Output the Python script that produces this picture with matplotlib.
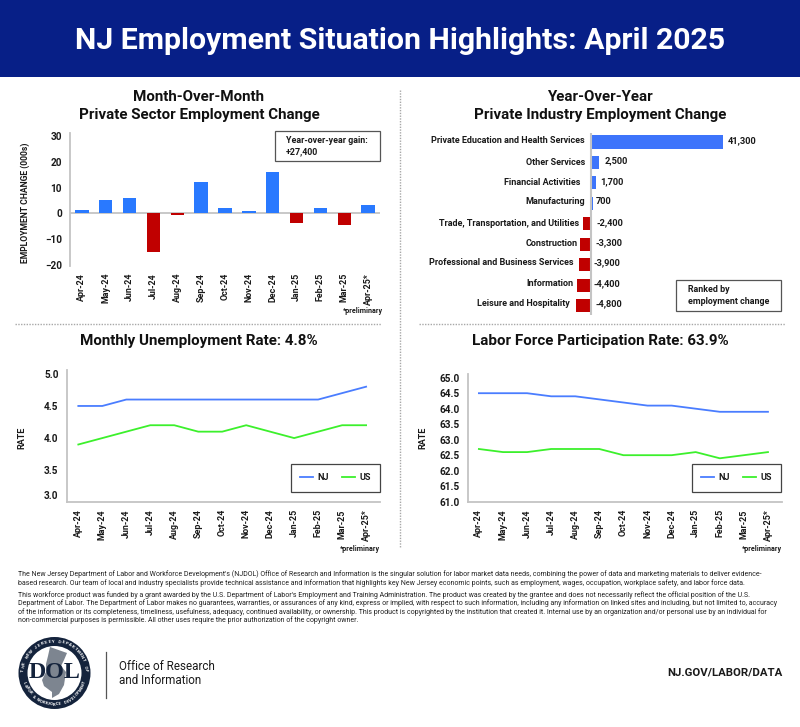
import numpy as np
import matplotlib
matplotlib.use('Agg')
import matplotlib.pyplot as plt
from matplotlib.patches import Rectangle, Circle, Polygon
from matplotlib.transforms import ScaledTranslation

months = ['Apr-24', 'May-24', 'Jun-24', 'Jul-24', 'Aug-24', 'Sep-24', 'Oct-24', 'Nov-24', 'Dec-24',
          'Jan-25', 'Feb-25', 'Mar-25', 'Apr-25*']
mom_change = [1.2, 5.2, 6.1, -15.0, -0.6, 12.1, 2.0, 0.8, 16.1, -3.8, 2.1, -4.3, 3.4]

industries = ['Private Education and Health Services', 'Other Services', 'Financial Activities', 'Manufacturing',
              'Trade, Transportation, and Utilities', 'Construction', 'Professional and Business Services',
              'Information', 'Leisure and Hospitality']
yoy_change = [41300, 2500, 1700, 700, -2400, -3300, -3900, -4400, -4800]

unemp_nj = [4.5, 4.5, 4.6, 4.6, 4.6, 4.6, 4.6, 4.6, 4.6, 4.6, 4.6, 4.7, 4.8]
unemp_us = [3.9, 4.0, 4.1, 4.2, 4.2, 4.1, 4.1, 4.2, 4.1, 4.0, 4.1, 4.2, 4.2]
lfpr_nj = [64.5, 64.5, 64.5, 64.4, 64.4, 64.3, 64.2, 64.1, 64.1, 64.0, 63.9, 63.9, 63.9]
lfpr_us = [62.7, 62.6, 62.6, 62.7, 62.7, 62.7, 62.5, 62.5, 62.5, 62.6, 62.4, 62.5, 62.6]

footer_lines = [
    "The New Jersey Department of Labor and Workforce Development's (NJDOL) Office of Research and Information is the singular solution for labor market data needs, combining the power of data and marketing materials to deliver evidence-",
    "based research. Our team of local and industry specialists provide technical assistance and information that highlights key New Jersey economic points, such as employment, wages, occupation, workplace safety, and labor force data.",
    "This workforce product was funded by a grant awarded by the U.S. Department of Labor's Employment and Training Administration. The product was created by the grantee and does not necessarily reflect the official position of the U.S.",
    "Department of Labor. The Department of Labor makes no guarantees, warranties, or assurances of any kind, express or implied, with respect to such information, including any information on linked sites and including, but not limited to, accuracy",
    "of the information or its completeness, timeliness, usefulness, adequacy, continued availability, or ownership. This product is copyrighted by the institution that created it. Internal use by an organization and/or personal use by an individual for",
    "non-commercial purposes is permissible. All other uses require the prior authorization of the copyright owner.",
]
footer_y = [574.5, 583, 595, 603.5, 612, 620.5]

NAVY = '#071f87'
BLUE = '#2979ff'
BLUE2 = '#3d74fb'
RED = '#c00000'
LINE_NJ = '#4a7dff'
LINE_US = '#3cf02c'
AXIS = '#c4c4c4'
INK = '#1a1a1a'

plt.rcParams['font.family'] = ['Roboto', 'DejaVu Sans']

W, H = 800, 727
fig = plt.figure(figsize=(W / 100, H / 100), dpi=100, facecolor='white')


def px_axes(left, top, right, bottom):
    return fig.add_axes([left / W, 1 - bottom / H, (right - left) / W, (bottom - top) / H], facecolor='none')


def style_months(ax, pad):
    ax.set_xticks(range(13))
    ax.set_xticklabels(months, rotation=90, fontsize=6.4, fontweight='bold', color=INK)
    ax.tick_params(axis='x', length=0, pad=pad)
    ax.tick_params(axis='y', length=0, pad=5.8, labelsize=7.2, labelcolor=INK)
    for lab in ax.get_yticklabels():
        lab.set_fontweight('bold')
    for s in ['top', 'right']:
        ax.spines[s].set_visible(False)
    for s in ['left', 'bottom']:
        ax.spines[s].set_color(AXIS)
        ax.spines[s].set_linewidth(1.3)


# month over month bars
ax1 = px_axes(70, 133, 380, 266)
colors = [BLUE if v >= 0 else RED for v in mom_change]
ax1.bar(range(13), mom_change, width=0.56, color=colors, zorder=3)
ax1.set_xlim(-0.5, 12.5)
ax1.set_ylim(-20.4, 31.2)
ax1.set_yticks([-20, -10, 0, 10, 20, 30])
style_months(ax1, 5)
ax1.spines['bottom'].set_visible(False)
ax1.axhline(0, color=AXIS, lw=1.3, zorder=2)

# year over year bars
ax2 = px_axes(420, 132.7, 782, 315)
scale = 131.7 / 41300
colors = [BLUE2 if v >= 0 else RED for v in yoy_change]
ax2.barh(range(9), yoy_change, height=0.64, color=colors, zorder=3)
ax2.set_xlim(-(591 - 420) / scale, (782 - 591) / scale)
ax2.set_ylim(8.46, -0.455)
ax2.axis('off')
ax2.axvline(0, color=AXIS, lw=1.5, zorder=4)
name_gap = [6, 6, 10.3, 6, 4, 3, 4.6, 3.3, 6]
name_up = [1.3, 0, 0.7, 1.7, 0.7, 0.3, 2.3, 1.3, 1.7]
value_gap = [5, 5.3, 3.7, 3, 5.7, 4.7, 2, 2, 4]
value_up = [1.3, 1.7, 0.7, 1.7, 1.3, 1.7, 2.3, 1.3, 1.7]
for i, (name, v) in enumerate(zip(industries, yoy_change)):
    ax2.annotate(name, (min(v, 0), i), xytext=(-name_gap[i], name_up[i]), textcoords='offset pixels',
                 ha='right', va='center', fontsize=6.5, fontweight='bold', color=INK)
    ax2.annotate(f'{v:,}', (max(v, 0), i), xytext=(value_gap[i], value_up[i]), textcoords='offset pixels',
                 ha='left', va='center', fontsize=6.7, fontweight='bold', color=INK)

# unemployment rate
ax3 = px_axes(66.7, 370, 380, 502.3)
ax3.plot(range(13), unemp_nj, color=LINE_NJ, lw=1.3, label='NJ')
ax3.plot(range(13), unemp_us, color=LINE_US, lw=1.3, label='US')
ax3.set_xlim(-0.485, 12.58)
ax3.set_ylim(3.0, 5.06)
ax3.set_yticks([3.0, 3.5, 4.0, 4.5, 5.0], ['3.0', '3.5', '4.0', '4.5', '5.0'])
style_months(ax3, 5)
lab = ax3.get_yticklabels()[0]
lab.set_transform(lab.get_transform() + ScaledTranslation(0, 5 / 72, fig.dpi_scale_trans))

# participation rate
ax4 = px_axes(468.3, 374.3, 781.7, 502.3)
ax4.plot(range(13), lfpr_nj, color=LINE_NJ, lw=1.3, label='NJ')
ax4.plot(range(13), lfpr_us, color=LINE_US, lw=1.3, label='US')
ax4.set_xlim(-0.44, 12.57)
ax4.set_ylim(60.98, 65.11)
ax4.set_yticks(np.arange(61, 65.5, 0.5))
ax4.set_yticklabels([f'{t:.1f}' for t in np.arange(61, 65.5, 0.5)])
style_months(ax4, 5)

# overlay in pixel coordinates for everything around the charts
bg = fig.add_axes([0, 0, 1, 1], facecolor='none', zorder=5)
bg.set_xlim(0, W)
bg.set_ylim(H, 0)
bg.axis('off')

for ax, cx in [(ax3, 335.5), (ax4, 736.5)]:
    leg = ax.legend(loc='center', bbox_to_anchor=(cx, 478), bbox_transform=bg.transData, ncol=2, fancybox=False,
                    framealpha=1, edgecolor='#444444', handlelength=1.35, handletextpad=0.5, columnspacing=1.5,
                    borderpad=1.0, prop={'size': 6.6, 'weight': 'bold'}, labelcolor=INK)
    leg.get_frame().set_linewidth(0.9)

bg.add_patch(Rectangle((0, 0), W, 77, color=NAVY, lw=0))
bg.text(400, 41, 'NJ Employment Situation Highlights: April 2025', color='white', fontsize=21.75, fontweight='bold',
        ha='center', va='center')

title_kw = dict(ha='center', va='center', fontsize=10.9, fontweight='bold', color='#111111')
bg.text(199, 97, 'Month-Over-Month', **title_kw)
bg.text(199, 115, 'Private Sector Employment Change', **title_kw)
bg.text(600, 97, 'Year-Over-Year', **title_kw)
bg.text(600, 115, 'Private Industry Employment Change', **title_kw)
bg.text(199, 341, 'Monthly Unemployment Rate: 4.8%', **title_kw)
bg.text(600, 341, 'Labor Force Participation Rate: 63.9%', **title_kw)

bg.text(25, 203, 'EMPLOYMENT CHANGE (000s)', rotation=90, ha='center', va='center', fontsize=6.2, fontweight='bold',
        color=INK)
bg.text(22, 438, 'RATE', rotation=90, ha='center', va='center', fontsize=6.5, fontweight='bold', color=INK)
bg.text(423, 438, 'RATE', rotation=90, ha='center', va='center', fontsize=6.5, fontweight='bold', color=INK)
for x, y in [(383, 311), (380, 549), (782, 549)]:
    bg.text(x, y, '*preliminary', ha='right', va='center', fontsize=5.1, fontweight='bold', color=INK)

# note boxes
bg.add_patch(Rectangle((274.5, 130.7), 105, 30.6, fc='white', ec='#555555', lw=0.9))
bg.text(286, 140.7, 'Year-over-year gain:', fontsize=6.4, fontweight='bold', va='center', color=INK)
bg.text(286, 151.5, '+27,400', fontsize=6.4, fontweight='bold', va='center', color=INK)
bg.add_patch(Rectangle((676, 280.3), 105.3, 31, fc='white', ec='#555555', lw=0.9))
bg.text(688, 290, 'Ranked by', fontsize=6.4, fontweight='bold', va='center', color=INK)
bg.text(688, 301.5, 'employment change', fontsize=6.4, fontweight='bold', va='center', color=INK)

# dotted dividers
dot = dict(color='#a8a8a8', lw=1.0, ls=(0, (1, 1)))
bg.plot([400, 400], [90, 547], **dot)
bg.plot([15, 381], [324, 324], **dot)
bg.plot([419, 785], [324, 324], **dot)

for line, y in zip(footer_lines, footer_y):
    bg.text(18, y, line, fontsize=5.09, va='center', color='#222222')

# logo
cx, cy = 54.5, 673
bg.add_patch(Circle((cx, cy), 36, fc='#14233c', lw=0))
bg.add_patch(Circle((cx, cy), 27, fc='white', lw=0))
bg.add_patch(Polygon([(50, 647), (67, 653), (64, 660), (61, 666), (66, 672), (64, 685), (59, 694), (52, 698),
                      (52, 692), (44, 686), (42, 680), (46, 672), (46, 664), (48, 656)], fc='#7d8590', lw=0))
bg.text(cx, 673, 'DOL', family='Liberation Serif', fontsize=17.3, fontweight='bold', color='#14233c',
        ha='center', va='center')


def ring_text(text, start, end, radius, flip=False, **kw):
    for ch, a in zip(text, np.radians(np.linspace(start, end, len(text)))):
        rot = np.degrees(a) + (90 if flip else -90)
        bg.text(cx + radius * np.cos(a), cy - radius * np.sin(a), ch, rotation=rot, rotation_mode='anchor',
                ha='center', va='center', color='white', **kw)


ring_text('THE NEW JERSEY DEPARTMENT OF', 175, 5, 31.5, fontsize=3.2, fontweight='bold')
ring_text('LABOR & WORKFORCE DEVELOPMENT', 198, 342, 31.5, flip=True, fontsize=3.0, fontweight='bold')

bg.plot([105.5, 105.5], [652, 698], color='#555555', lw=0.9)
bg.text(119, 666, 'Office of Research', fontsize=8.35, va='center', color=INK)
bg.text(119, 680, 'and Information', fontsize=8.35, va='center', color=INK)
bg.text(782, 672, 'NJ.GOV/LABOR/DATA', fontsize=8.2, fontweight='bold', ha='right', va='center', color=INK)

fig.savefig('out.png', dpi=100)
